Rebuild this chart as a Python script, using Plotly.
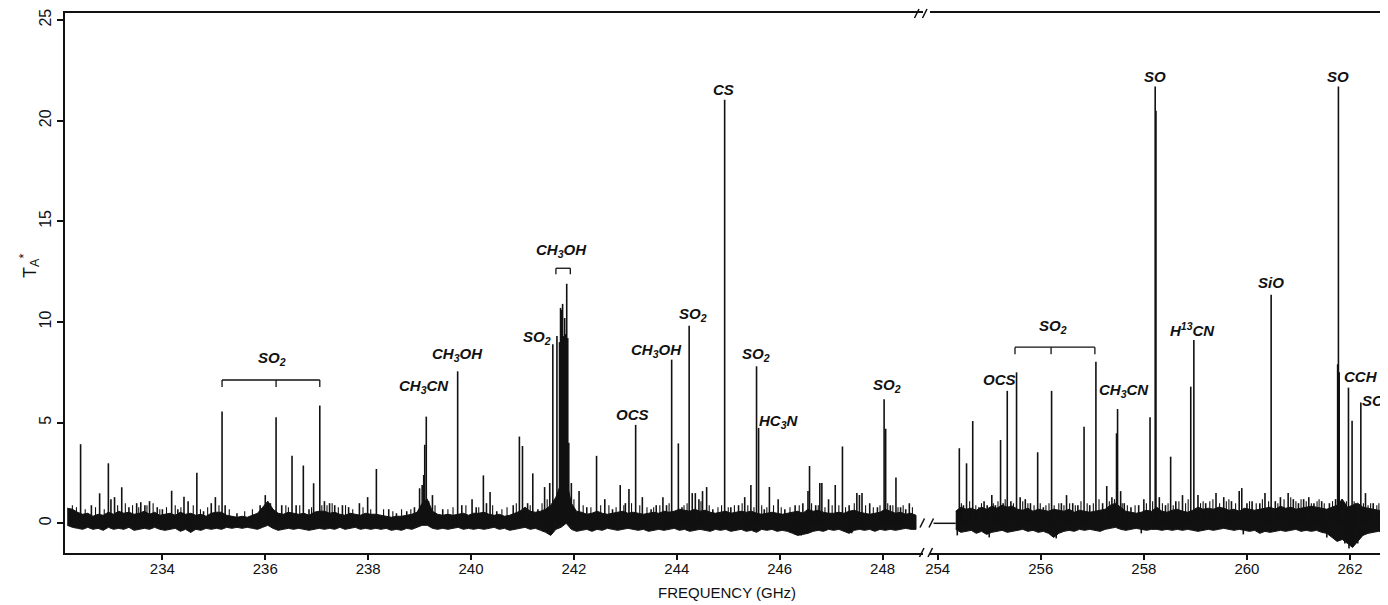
import plotly.graph_objects as go

# ------------------------------------------------------------------ data
# noise band of the baseline (upper / lower envelope, K), sampled every 0.1 GHz
left_start, left_step = 232.15, 0.1
left_hi = [
    0.75, 0.7, 0.55, 0.45, 0.5, 0.35, 0.45, 0.4, 0.55, 0.45,
    0.6, 0.5, 0.55, 0.45, 0.5, 0.6, 0.45, 0.55, 0.4, 0.45,
    0.5, 0.4, 0.55, 0.45, 0.5, 0.4, 0.45, 0.35, 0.5, 0.55,
    0.55, 0.4, 0.35, 0.3, 0.35, 0.3, 0.4, 0.5, 0.8, 1.1,
    0.7, 0.5, 0.45, 0.55, 0.5, 0.45, 0.5, 0.4, 0.55, 0.6,
    0.6, 0.5, 0.55, 0.45, 0.4, 0.5, 0.45, 0.4, 0.5, 0.45,
    0.45, 0.4, 0.35, 0.3, 0.35, 0.35, 0.4, 0.45, 0.55, 1.0,
    1.2, 0.6, 0.45, 0.4, 0.45, 0.4, 0.45, 0.5, 0.4, 0.5,
    0.5, 0.55, 0.45, 0.4, 0.45, 0.35, 0.4, 0.5, 0.6, 0.8,
    0.6, 0.55, 0.6, 0.7, 0.9, 1.3, 2.0, 2.2, 1.0, 0.6,
    0.55, 0.45, 0.5, 0.6, 0.5, 0.45, 0.5, 0.55, 0.6, 0.5,
    0.55, 0.5, 0.45, 0.5, 0.55, 0.5, 0.6, 0.55, 0.6, 0.7,
    0.65, 0.6, 0.7, 0.6, 0.65, 0.55, 0.5, 0.55, 0.6, 0.5,
    0.55, 0.6, 0.55, 0.6, 0.5, 0.45, 0.5, 0.55, 0.5, 0.45,
    0.5, 0.55, 0.6, 0.5, 0.7, 0.6, 0.65, 0.55, 0.5, 0.5,
    0.55, 0.5, 0.6, 0.65, 0.55, 0.5, 0.45, 0.5, 0.55, 0.7,
    0.6, 0.5, 0.55, 0.45, 0.5, 0.4,
]
left_lo = [
    -0.1, -0.2, -0.25, -0.3, -0.2, -0.3, -0.25, -0.35, -0.2, -0.3,
    -0.25, -0.3, -0.2, -0.35, -0.3, -0.25, -0.3, -0.2, -0.3, -0.35,
    -0.3, -0.25, -0.4, -0.3, -0.45, -0.3, -0.35, -0.25, -0.3, -0.25,
    -0.3, -0.2, -0.25, -0.2, -0.25, -0.2, -0.25, -0.3, -0.2, -0.1,
    -0.25, -0.35, -0.3, -0.25, -0.3, -0.25, -0.3, -0.35, -0.3, -0.25,
    -0.3, -0.25, -0.3, -0.2, -0.3, -0.25, -0.2, -0.3, -0.25, -0.3,
    -0.25, -0.3, -0.25, -0.35, -0.3, -0.35, -0.25, -0.3, -0.2, -0.1,
    -0.1, -0.25, -0.3, -0.25, -0.3, -0.25, -0.2, -0.3, -0.25, -0.3,
    -0.25, -0.3, -0.25, -0.2, -0.3, -0.25, -0.35, -0.3, -0.25, -0.2,
    -0.3, -0.25, -0.35, -0.45, -0.6, -0.3, -0.2, 0.0, -0.3, -0.4,
    -0.35, -0.3, -0.4, -0.3, -0.35, -0.25, -0.3, -0.35, -0.3, -0.25,
    -0.3, -0.35, -0.3, -0.4, -0.35, -0.3, -0.35, -0.3, -0.25, -0.35,
    -0.3, -0.4, -0.35, -0.3, -0.35, -0.4, -0.3, -0.35, -0.3, -0.4,
    -0.35, -0.3, -0.4, -0.35, -0.45, -0.3, -0.35, -0.3, -0.4, -0.35,
    -0.4, -0.5, -0.6, -0.55, -0.5, -0.4, -0.35, -0.4, -0.3, -0.35,
    -0.3, -0.4, -0.5, -0.35, -0.3, -0.35, -0.3, -0.4, -0.3, -0.35,
    -0.3, -0.35, -0.3, -0.25, -0.3, -0.3,
]
right_start, right_step = 254.35, 0.1
right_hi = [
    0.6, 0.8, 0.7, 0.75, 0.65, 0.8, 0.7, 0.85, 0.75, 0.9,
    0.8, 0.85, 0.7, 0.65, 0.75, 0.6, 0.7, 0.65, 0.6, 0.7,
    0.65, 0.6, 0.7, 0.55, 0.65, 0.6, 0.55, 0.6, 0.65, 0.7,
    0.9, 1.0, 0.8, 0.6, 0.55, 0.5, 0.55, 0.65, 0.6, 0.8,
    0.6, 0.55, 0.65, 0.7, 0.6, 0.55, 0.65, 0.8, 0.7, 0.75,
    0.7, 0.8, 0.75, 0.65, 0.7, 0.6, 0.75, 0.7, 0.65, 0.7,
    0.75, 0.8, 0.7, 0.85, 0.75, 0.8, 0.7, 0.75, 0.8, 0.85,
    0.8, 0.75, 0.7, 0.8, 0.9, 1.2, 0.8, 0.9, 1.0, 0.8,
    0.75, 0.7, 0.65, 0.6, 0.7,
]
right_lo = [
    -0.3, -0.45, -0.4, -0.35, -0.5, -0.4, -0.55, -0.45, -0.4, -0.35,
    -0.45, -0.4, -0.35, -0.3, -0.4, -0.35, -0.45, -0.4, -0.5, -0.7,
    -0.5, -0.4, -0.35, -0.4, -0.3, -0.35, -0.3, -0.35, -0.4, -0.3,
    -0.25, -0.2, -0.3, -0.35, -0.3, -0.25, -0.3, -0.35, -0.3, -0.3,
    -0.35, -0.3, -0.35, -0.3, -0.35, -0.3, -0.35, -0.4, -0.35, -0.3,
    -0.35, -0.3, -0.25, -0.3, -0.35, -0.3, -0.35, -0.4, -0.35, -0.5,
    -0.4, -0.45, -0.4, -0.35, -0.4, -0.35, -0.3, -0.4, -0.35, -0.4,
    -0.35, -0.45, -0.5, -0.7, -0.9, -0.8, -1.0, -1.2, -0.9, -0.6,
    -0.5, -0.45, -0.4, -0.45, -0.4,
]

# spectral lines (frequency GHz, peak T_A* K)
left_line_freq = [
    232.41, 232.62, 232.78, 232.95, 233.0, 233.07, 233.21, 233.35, 233.5, 233.58,
    233.66, 233.75, 233.9, 234.0, 234.18, 234.3, 234.42, 234.5, 234.55, 234.67,
    234.8, 234.95, 235.03, 235.16, 235.22, 235.45, 235.9, 236.0, 236.1, 236.21,
    236.32, 236.52, 236.6, 236.74, 236.85, 236.94, 237.06, 237.15, 237.25, 237.35,
    237.5, 237.62, 237.83, 237.99, 238.16, 238.4, 238.55, 238.75, 238.9, 239.0,
    239.05, 239.08, 239.1, 239.13, 239.25, 239.45, 239.74, 239.82, 240.02, 240.1,
    240.24, 240.3, 240.37, 240.5, 240.82, 240.94, 241.0, 241.1, 241.2, 241.3,
    241.43, 241.53, 241.56, 241.59, 241.67, 241.72, 241.74, 241.76, 241.78, 241.8,
    241.82, 241.84, 241.86, 241.88, 241.9, 241.95, 242.1, 242.25, 242.44, 242.6,
    242.75, 242.9, 243.0, 243.07, 243.2, 243.33, 243.5, 243.6, 243.73, 243.8,
    243.9, 244.03, 244.1, 244.24, 244.3, 244.36, 244.43, 244.5, 244.58, 244.7,
    244.93, 245.05, 245.2, 245.32, 245.44, 245.55, 245.59, 245.7, 245.8, 245.97,
    246.1, 246.3, 246.32, 246.42, 246.45, 246.52, 246.55, 246.58, 246.7, 246.78,
    246.82, 246.95, 247.08, 247.22, 247.35, 247.4, 247.5, 247.55, 247.6, 247.75,
    247.9, 248.03, 248.06, 248.15, 248.26, 248.35, 248.45, 248.52,
]
left_line_temp = [
    3.93, 0.9, 1.49, 2.98, 1.2, 1.3, 1.79, 0.8, 1.0, 1.05,
    0.9, 1.1, 0.8, 0.7, 1.62, 0.7, 1.32, 1.1, -0.45, 2.51,
    0.6, 1.0, 1.3, 5.55, 0.9, 0.5, 0.9, 1.4, 1.0, 5.27,
    0.9, 3.35, 0.9, 2.87, 0.7, 1.99, 5.85, 1.1, 1.0, 0.9,
    0.9, 0.8, 1.0, 1.3, 2.7, 0.7, 0.5, 0.6, 0.8, 1.74,
    1.9, 2.4, 3.9, 5.3, 1.4, 0.7, 7.55, 0.9, 1.2, 0.8,
    2.38, 1.0, 1.55, 0.6, 0.9, 4.31, 3.84, 1.0, 2.48, 0.7,
    1.8, 2.0, -0.5, 8.9, 9.3, 9.0, 10.7, 10.6, 10.9, 9.3,
    10.2, 9.4, 11.9, 9.2, 4.0, 2.0, 1.6, 0.8, 3.35, 1.2,
    0.7, 1.9, 1.0, 1.7, 4.89, 1.3, 0.7, 0.9, 1.3, 0.9,
    8.13, 3.97, 0.8, 9.81, 1.5, 1.5, 1.2, 1.6, 1.8, 0.7,
    21.04, 0.8, 0.9, 1.3, 1.9, 7.8, 4.74, 0.7, 1.8, 1.2,
    0.7, 0.9, -0.55, -0.6, 1.0, -0.5, 1.6, 2.85, 0.9, 2.0,
    2.0, 1.2, 1.9, 3.81, 0.9, -0.5, 1.5, 1.4, 1.5, 1.0,
    0.8, 6.16, 4.7, 0.9, 2.27, 0.8, 0.7, 1.0,
]
right_line_freq = [
    254.38, 254.42, 254.5, 254.56, 254.68, 254.8, 254.9, 254.96, 255.0, 255.05,
    255.12, 255.22, 255.27, 255.35, 255.42, 255.53, 255.6, 255.7, 255.8, 255.94,
    256.05, 256.21, 256.3, 256.4, 256.5, 256.62, 256.72, 256.84, 256.95, 257.07,
    257.2, 257.28, 257.38, 257.47, 257.49, 257.55, 257.62, 257.75, 257.9, 257.95,
    258.0, 258.12, 258.22, 258.235, 258.3, 258.42, 258.52, 258.62, 258.75, 258.91,
    258.97, 259.05, 259.2, 259.4, 259.55, 259.7, 259.85, 259.9, 259.93, 260.0,
    260.1, 260.25, 260.35, 260.47, 260.55, 260.65, 260.8, 260.9, 261.0, 261.1,
    261.2, 261.3, 261.45, 261.55, 261.6, 261.72, 261.76, 261.775, 261.79, 261.9,
    261.97, 261.98, 262.04, 262.06, 262.1, 262.15, 262.21, 262.3, 262.45, 262.6,
]
right_line_temp = [
    -0.6, 3.73, 0.9, 2.98, 5.08, 0.8, 1.1, 0.9, -0.7, 1.4,
    0.9, 4.14, 1.0, 6.58, 1.1, 7.5, 1.3, 1.2, 1.0, 3.53,
    0.8, 6.58, -0.75, 1.0, 1.4, 1.0, 0.9, 4.8, 0.9, 8.03,
    1.0, 1.85, 1.3, 4.47, 5.68, 1.6, 1.0, 0.8, 0.9, -0.5,
    1.2, 5.27, 21.7, 20.5, 1.3, 0.9, 3.31, 1.1, 1.4, 6.79,
    9.1, 1.4, 1.0, 1.5, 1.3, 1.1, 1.6, 1.75, -0.55, 1.0,
    1.1, 1.0, 1.5, 11.35, 1.1, 1.3, 1.5, 1.2, 1.0, 1.2,
    1.3, 1.0, 1.1, -0.7, 1.0, 1.2, 7.9, 21.7, 7.5, -1.0,
    6.74, -1.25, 5.1, -0.9, 1.0, -1.0, 6.0, 1.5, 1.0, 0.9,
]

# weak features riding on the noise (frequency GHz, T_A* K)
left_weak_freq = [
    232.25, 232.33, 232.5, 232.7, 232.87, 233.13, 233.28, 233.42, 233.54, 233.7,
    233.82, 233.95, 234.08, 234.25, 234.36, 234.6, 234.74, 234.88, 235.1, 235.3,
    235.6, 235.75, 236.05, 236.4, 236.45, 236.67, 236.9, 237.1, 237.2, 237.3,
    237.42, 237.56, 237.7, 237.9, 238.05, 238.3, 238.48, 238.65, 238.83, 239.18,
    239.3, 239.55, 239.65, 239.9, 240.15, 240.42, 240.6, 240.7, 240.88, 241.15,
    241.38, 241.48, 242.0, 242.18, 242.33, 242.52, 242.68, 242.82, 242.97, 243.12,
    243.28, 243.42, 243.55, 243.67, 243.85, 244.14, 244.2, 244.47, 244.63, 244.8,
    244.87, 245.0, 245.12, 245.27, 245.38, 245.5, 245.65, 245.75, 245.88, 246.03,
    246.2, 246.38, 246.62, 246.75, 246.88, 247.02, 247.15, 247.28, 247.45, 247.67,
    247.82, 247.95, 248.1, 248.2, 248.3, 248.4, 248.58,
]
left_weak_temp = [
    0.9, 0.8, 0.7, 0.8, 0.7, 0.9, 1.0, 0.9, 0.8, 0.9,
    1.0, 0.7, 0.8, 0.9, 0.8, 0.9, 0.7, 0.8, 0.9, 0.7,
    0.6, 0.7, 1.0, 0.9, 0.8, 0.9, 0.8, 0.9, 0.9, 1.0,
    0.8, 0.9, 0.7, 0.8, 0.7, 0.7, 0.6, 0.7, 0.7, 1.1,
    0.9, 0.7, 0.8, 0.9, 0.8, 0.9, 0.7, 0.8, 1.0, 0.9,
    1.0, 1.2, 1.2, 0.9, 0.8, 0.9, 0.9, 0.8, 0.9, 1.0,
    0.9, 0.8, 0.8, 0.9, 1.0, 0.9, 1.0, 1.1, 0.9, 0.8,
    0.9, 0.8, 0.9, 1.0, 0.9, 0.8, 0.9, 0.8, 0.9, 0.8,
    0.8, 0.9, 1.0, 0.9, 0.8, 0.9, 0.9, 0.8, 1.0, 0.9,
    0.8, 0.9, 1.0, 0.9, 0.8, 0.9, 0.8,
]
right_weak_freq = [
    254.46, 254.62, 254.74, 254.85, 255.08, 255.17, 255.31, 255.47, 255.65, 255.75,
    255.87, 255.99, 256.1, 256.16, 256.26, 256.35, 256.45, 256.56, 256.67, 256.78,
    256.9, 257.02, 257.13, 257.33, 257.43, 257.58, 257.68, 257.83, 258.05, 258.17,
    258.36, 258.47, 258.57, 258.68, 258.81, 258.86, 259.1, 259.15, 259.28, 259.34,
    259.47, 259.6, 259.65, 259.78, 260.05, 260.18, 260.3, 260.42, 260.6, 260.72,
    260.85, 260.95, 261.05, 261.15, 261.25, 261.36, 261.4, 261.5, 261.66, 261.84,
    261.93, 262.08, 262.26, 262.35, 262.4, 262.52, 262.56, 262.66, 262.7,
]
right_weak_temp = [
    1.0, 1.1, 0.9, 1.0, 1.0, 1.1, 1.2, 1.0, 1.1, 1.0,
    0.9, 1.0, 0.9, 1.0, 0.9, 1.0, 0.9, 1.0, 0.9, 1.1,
    1.0, 1.0, 1.2, 1.1, 1.2, 1.0, 0.9, 0.9, 1.0, 1.1,
    1.0, 1.0, 0.9, 1.1, 1.0, 1.2, 1.0, 1.1, 1.1, 1.2,
    1.0, 1.1, 1.2, 1.0, 1.1, 1.0, 1.2, 1.1, 1.0, 1.2,
    1.3, 1.1, 1.2, 1.1, 1.0, 1.1, 1.2, 1.0, 1.1, 1.2,
    1.1, 1.1, 1.0, 0.9, 1.0, 0.9, 1.0, 0.9, 1.0,
]

left_ticks = [234, 236, 238, 240, 242, 244, 246, 248]
right_ticks = [254, 256, 258, 260, 262]
y_ticks = [0, 5, 10, 15, 20, 25]

# ------------------------------------------------------------------ layout constants
W, H = 1388, 605
PAGE = 8                       # the browser's default body margin shifts the figure
PLOT_L, PLOT_R, PLOT_T, PLOT_B = 65, 1388, 13, 553   # wanted plot box in the window
ML, MT = PLOT_L - PAGE, PLOT_T - PAGE
MR = W - (PLOT_R - PAGE)
MB = H - (PLOT_B - PAGE)
PW, PH = PLOT_R - PLOT_L, PLOT_B - PLOT_T
left_range = [232.107, 248.78]
right_range = [253.851, 262.737]
y_range = [-1.475, 25.35]
left_dom = [0, (922.7 - PLOT_L) / PW]
right_dom = [(930 - PLOT_L) / PW, 1]

FONT = "Liberation Sans, Arial, Helvetica, sans-serif"
INK = "#111111"


def band_trace(start, step, hi, lo, xa):
    xs = [start + i * step for i in range(len(hi))]
    return go.Scatter(
        x=xs + xs[::-1], y=hi + lo[::-1], xaxis=xa, yaxis="y",
        mode="lines", fill="toself", fillcolor=INK,
        line=dict(color=INK, width=1), hoverinfo="skip", showlegend=False,
    )


def line_trace(freqs, temps, xa, width):
    xs, ys = [], []
    for f, t in zip(freqs, temps):
        xs += [f, f, None]
        ys += [0, t, None]
    return go.Scatter(
        x=xs, y=ys, xaxis=xa, yaxis="y", mode="lines",
        line=dict(color=INK, width=width), hoverinfo="skip", showlegend=False,
    )


fig = go.Figure()
fig.add_trace(band_trace(left_start, left_step, left_hi, left_lo, "x"))
fig.add_trace(band_trace(right_start, right_step, right_hi, right_lo, "x2"))
fig.add_trace(line_trace(left_weak_freq, left_weak_temp, "x", 1.1))
fig.add_trace(line_trace(right_weak_freq, right_weak_temp, "x2", 1.1))
fig.add_trace(line_trace(left_line_freq, left_line_temp, "x", 1.6))
fig.add_trace(line_trace(right_line_freq, right_line_temp, "x2", 1.6))

tickfont = dict(family=FONT, size=15, color=INK)
base_x = dict(
    showline=True, linecolor=INK, linewidth=1.5, mirror=True,
    ticks="outside", ticklen=5, tickwidth=1.5, tickcolor=INK,
    tickfont=tickfont, showgrid=False, zeroline=False, anchor="y",
    ticklabelstandoff=-4,
)
over_x = dict(
    showline=False, ticks="inside", ticklen=7, tickwidth=1.5, tickcolor=INK,
    showticklabels=False, showgrid=False, zeroline=False, anchor="y",
    mirror="ticks",
    minor=dict(ticks="inside", ticklen=5, tickwidth=1.2, tickcolor=INK, dtick=1, tick0=0),
)

fig.update_layout(
    width=W, height=H,
    margin=dict(l=ML, r=MR, t=MT, b=MB, autoexpand=False),
    paper_bgcolor="white", plot_bgcolor="white",
    font=dict(family=FONT, color=INK),
    xaxis=dict(base_x, domain=left_dom, range=left_range, tickvals=left_ticks),
    xaxis2=dict(base_x, domain=right_dom, range=right_range, tickvals=right_ticks),
    xaxis3=dict(over_x, overlaying="x", range=left_range, dtick=2, tick0=0),
    xaxis4=dict(over_x, overlaying="x2", range=right_range, dtick=2, tick0=0),
    yaxis=dict(
        domain=[0, 1], range=y_range, tickvals=y_ticks, anchor="x",
        showline=True, linecolor=INK, linewidth=1.5,
        ticks="outside", ticklen=6, tickwidth=1.5, tickcolor=INK,
        tickfont=dict(family=FONT, size=16, color=INK), tickangle=-90,
        showgrid=False, zeroline=False,
    ),
    yaxis2=dict(
        overlaying="y", anchor="x", range=y_range, dtick=5, tick0=0,
        showline=False, ticks="inside", ticklen=6, tickwidth=1.5, tickcolor=INK,
        showticklabels=False, showgrid=False, zeroline=False,
        minor=dict(ticks="inside", ticklen=5, tickwidth=1.2, tickcolor=INK, dtick=1, tick0=0),
    ),
)


def px(v):
    return (v - PLOT_L) / PW


def py(v):
    return (PLOT_B - v) / PH


# axis titles
fig.add_annotation(
    text="FREQUENCY (GHz)", xref="paper", yref="paper", x=0.5, y=py(593),
    xanchor="center", yanchor="middle", showarrow=False,
    font=dict(family=FONT, size=15, color=INK),
)
fig.add_annotation(
    text="T<sub>A</sub><sup>*</sup>", xref="paper", yref="paper", x=px(29), y=py(266),
    xanchor="center", yanchor="middle", showarrow=False, textangle=-90,
    font=dict(family=FONT, size=18, color=INK),
)

# species labels: (text, axis, x, y)
labels = [
    ("SO<sub>2</sub>", "x", 236.13, 8.2),
    ("CH<sub>3</sub>CN", "x", 239.09, 6.82),
    ("CH<sub>3</sub>OH", "x", 239.73, 8.41),
    ("SO<sub>2</sub>", "x", 241.29, 9.21),
    ("CH<sub>3</sub>OH", "x", 241.76, 13.53),
    ("OCS", "x", 243.14, 5.43),
    ("CH<sub>3</sub>OH", "x", 243.6, 8.56),
    ("SO<sub>2</sub>", "x", 244.31, 10.35),
    ("CS", "x", 244.91, 21.57),
    ("SO<sub>2</sub>", "x", 245.53, 8.41),
    ("HC<sub>3</sub>N", "x", 245.98, 5.08),
    ("SO<sub>2</sub>", "x", 248.08, 6.87),
    ("OCS", "x2", 255.19, 7.12),
    ("SO<sub>2</sub>", "x2", 256.24, 9.76),
    ("CH<sub>3</sub>CN", "x2", 257.61, 6.58),
    ("SO", "x2", 258.22, 22.18),
    ("H<sup>13</sup>CN", "x2", 258.95, 9.61),
    ("SiO", "x2", 260.47, 11.94),
    ("SO", "x2", 261.77, 22.18),
    ("CCH", "x2", 262.22, 7.28),
]
for txt, xa, xv, yv in labels:
    fig.add_annotation(
        text="<b><i>" + txt + "</i></b>", xref=xa, yref="y", x=xv, y=yv,
        xanchor="center", yanchor="middle", showarrow=False,
        font=dict(family=FONT, size=15, color=INK),
    )
# partially cut label at right edge
fig.add_annotation(
    text="<b><i>SO<sub>2</sub></i></b>", xref="x2", yref="y", x=262.19, y=6.03,
    xanchor="left", yanchor="middle", showarrow=False,
    font=dict(family=FONT, size=15, color=INK),
)


# brackets grouping lines
def bracket(xa, x0, xm, x1, ytop, ydrop):
    ln = dict(color=INK, width=1.3)
    fig.add_shape(type="line", xref=xa, yref="y", x0=x0, x1=x1, y0=ytop, y1=ytop, line=ln)
    for xv in (x0, x1):
        fig.add_shape(type="line", xref=xa, yref="y", x0=xv, x1=xv, y0=ytop, y1=ytop - ydrop, line=ln)
    if xm is not None:
        fig.add_shape(type="line", xref=xa, yref="y", x0=xm, x1=xm, y0=ytop, y1=ytop - ydrop, line=ln)


bracket("x", 235.16, 236.21, 237.06, 7.12, 0.35)
bracket("x", 241.65, None, 241.93, 12.67, 0.3)
bracket("x2", 255.5, 256.2, 257.05, 8.75, 0.35)

# flat connecting segment at the start of the right panel
fig.add_shape(type="line", xref="x2", yref="y", x0=253.92, x1=right_start, y0=0, y1=0,
              line=dict(color=INK, width=1.5))

# axis-break marks (window pixels)
for (xa, ya, xb, yb) in [
    (919.5, 557, 924, 548), (928, 557, 932.5, 548),          # bottom axis
    (914.5, 18, 919, 9), (922.5, 18, 927, 9),                # top frame
    (920, 527.5, 924.5, 518.5), (929, 527.5, 933.5, 518.5),  # spectrum
]:
    fig.add_shape(type="line", xref="paper", yref="paper",
                  x0=px(xa), y0=py(ya), x1=px(xb), y1=py(yb),
                  line=dict(color=INK, width=1.6))

fig.write_html("out.html")
